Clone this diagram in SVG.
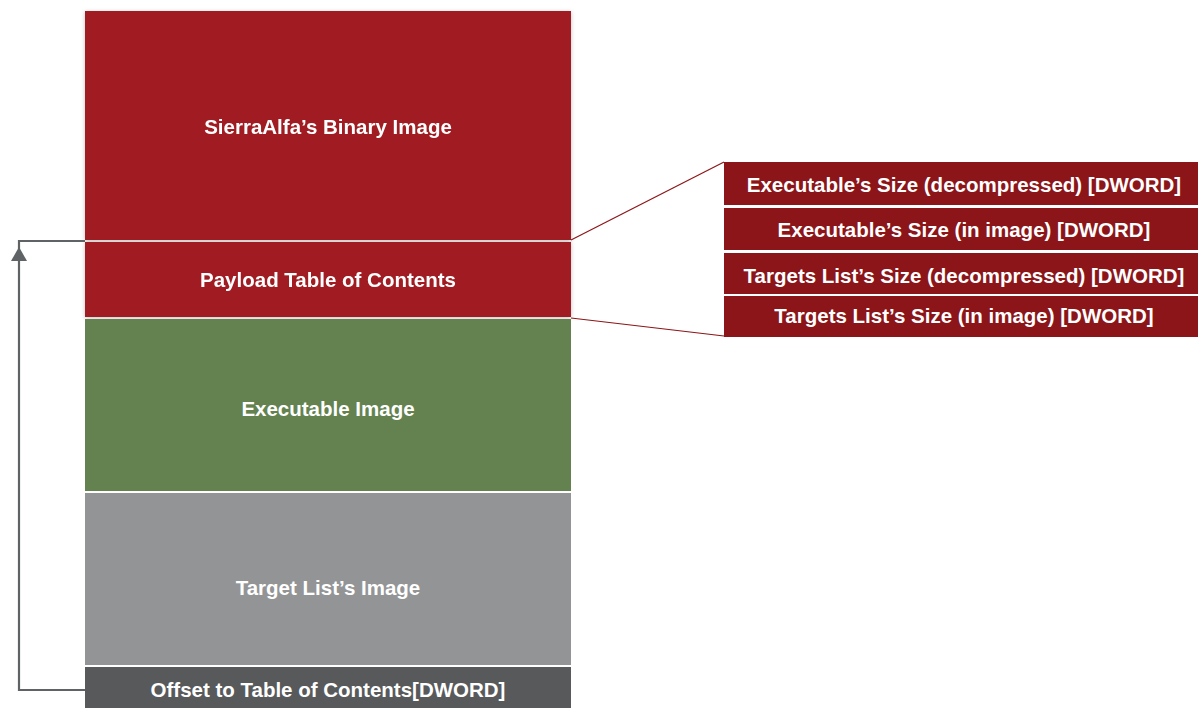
<svg xmlns="http://www.w3.org/2000/svg" width="1198" height="708" viewBox="0 0 1198 708">
<defs>
<style>
.t{font-family:"Liberation Sans",Arial,sans-serif;font-size:20.5px;font-weight:bold;fill:#ffffff;text-anchor:middle}
.red{fill:#a01f23}
.dred{fill:#8b1518}
.conn{stroke:#8b1518;stroke-width:1.2;fill:none}
.ret{stroke:#5f6366;stroke-width:2.2;fill:none}
</style>
<filter id="sh" x="-5%" y="-5%" width="110%" height="115%">
<feDropShadow dx="0" dy="1" stdDeviation="2" flood-color="#000" flood-opacity="0.25"/>
</filter>
</defs>
<rect width="1198" height="708" fill="#ffffff"/>
<g id="binary-image" filter="url(#sh)">
<rect class="red" x="85" y="11" width="486" height="229"/>
<text class="t" x="328" y="134">SierraAlfa’s Binary Image</text>
</g>
<g id="payload-toc" filter="url(#sh)">
<rect class="red" x="85" y="242" width="486" height="75"/>
<text class="t" x="328" y="287">Payload Table of Contents</text>
</g>
<g id="executable-image">
<rect fill="#63824f" x="85" y="319" width="486" height="172"/>
<text class="t" x="328" y="416">Executable Image</text>
</g>
<g id="target-list-image">
<rect fill="#939496" x="85" y="493" width="486" height="172"/>
<text class="t" x="328" y="595">Target List’s Image</text>
</g>
<g id="offset-toc">
<rect fill="#58595b" x="85" y="667" width="486" height="41"/>
<text class="t" x="328" y="697">Offset to Table of Contents[DWORD]</text>
</g>
<g id="toc-exe-decompressed">
<rect class="dred" x="724" y="162" width="474" height="43"/>
<text class="t" x="964" y="192">Executable’s Size (decompressed) [DWORD]</text>
</g>
<g id="toc-exe-image">
<rect class="dred" x="724" y="208" width="474" height="42"/>
<text class="t" x="964" y="237">Executable’s Size (in image) [DWORD]</text>
</g>
<g id="toc-targets-decompressed">
<rect class="dred" x="724" y="253" width="474" height="41"/>
<text class="t" x="964" y="283">Targets List’s Size (decompressed) [DWORD]</text>
</g>
<g id="toc-targets-image">
<rect class="dred" x="724" y="296" width="474" height="41"/>
<text class="t" x="964" y="323">Targets List’s Size (in image) [DWORD]</text>
</g>
<g id="connectors">
<line class="conn" x1="571" y1="240" x2="724" y2="162"/>
<line class="conn" x1="571" y1="318" x2="724" y2="336"/>
<path class="ret" d="M85,690 L19,690 L19,241 L85,241"/>
<path d="M19,247 L27,261 L11,261 Z" fill="#5f6366"/>
</g>
</svg>
